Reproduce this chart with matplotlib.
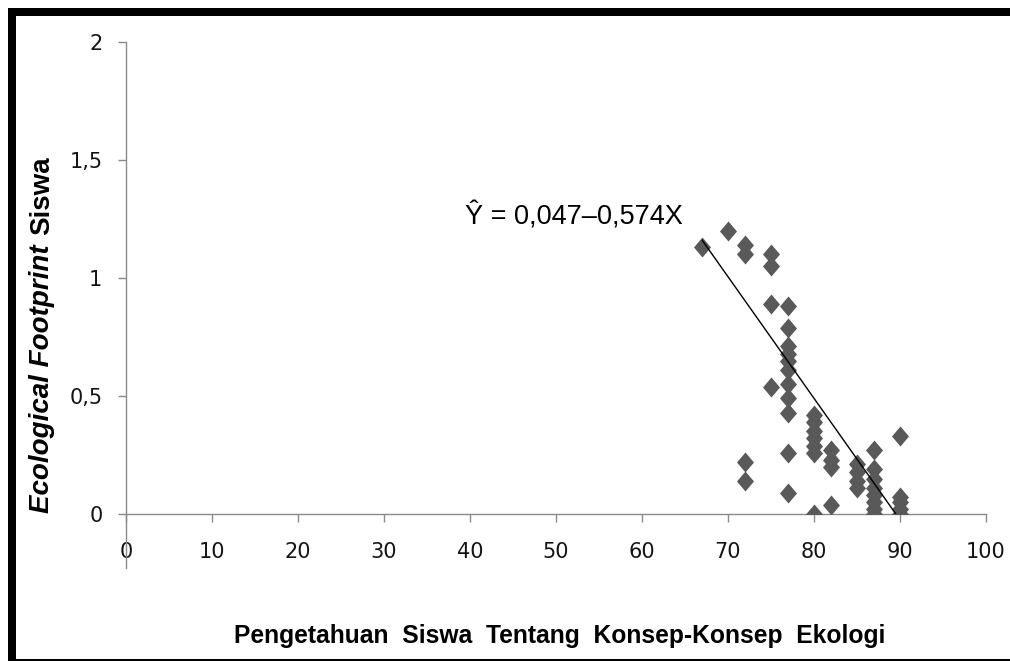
import matplotlib
matplotlib.use("Agg")
import matplotlib.pyplot as plt
from matplotlib.patches import Rectangle

# values
pengetahuan = [67, 70,
               72, 72, 72, 72,
               75, 75, 75, 75,
               77, 77, 77, 77, 77, 77, 77, 77, 77, 77, 77,
               80, 80, 80, 80, 80, 80, 80,
               82, 82, 82, 82,
               85, 85, 85, 85,
               87, 87, 87, 87, 87, 87, 87, 87,
               90, 90, 90, 90, 90]
footprint = [1.13, 1.20,
             1.14, 1.10, 0.22, 0.14,
             1.10, 1.05, 0.89, 0.54,
             0.88, 0.79, 0.71, 0.68, 0.65, 0.61, 0.55, 0.49, 0.43, 0.26, 0.09,
             0.42, 0.39, 0.35, 0.32, 0.29, 0.26, 0.00,
             0.27, 0.23, 0.20, 0.04,
             0.21, 0.18, 0.14, 0.11,
             0.27, 0.19, 0.15, 0.11, 0.08, 0.05, 0.02, 0.00,
             0.33, 0.07, 0.05, 0.02, 0.00]

# trend line as drawn in the chart
trend_x = [67, 90]
trend_y = [1.16, -0.025]

x_ticks = [0, 10, 20, 30, 40, 50, 60, 70, 80, 90, 100]
y_ticks = [0, 0.5, 1, 1.5, 2]
y_tick_labels = ['0', '0,5', '1', '1,5', '2']
persamaan = 'Ŷ = 0,047–0,574X'

W, H = 1010, 661
fig = plt.figure(figsize=(W / 100, H / 100), dpi=100)
ax = fig.add_axes([126 / W, (H - 514) / H, 860 / W, 472 / H])

diamond = [(0, 1), (0.85, 0), (0, -1), (-0.85, 0), (0, 1)]
ax.plot(pengetahuan, footprint, linestyle='none', marker=diamond,
        markersize=14.4, color='#595959', markeredgewidth=0, zorder=3)
ax.plot(trend_x, trend_y, color='black', linewidth=1.0, zorder=4)

ax.set_xlim(0, 100)
ax.set_ylim(0, 2)
ax.set_xticks(x_ticks)
ax.set_yticks(y_ticks)
ax.set_yticklabels(y_tick_labels)

for side in ['top', 'right']:
    ax.spines[side].set_visible(False)
for side in ['left', 'bottom']:
    ax.spines[side].set_color('#8a8a8a')
    ax.spines[side].set_linewidth(1.0)
# the vertical axis line runs a bit under the horizontal axis
ax.spines['left'].set_bounds(-0.23, 2)

ax.tick_params(axis='both', direction='out', length=6, width=1.0,
               color='#8a8a8a', labelcolor='#141414')
ax.tick_params(axis='x', pad=14)
ax.tick_params(axis='y', pad=11)
for lab in ax.get_xticklabels() + ax.get_yticklabels():
    lab.set_family('DejaVu Sans')
    lab.set_fontsize(15)

ax.text(39.4, 1.2246, persamaan, ha='left', va='baseline', fontsize=19.5,
        family='Liberation Sans', color='black')

# axis titles
fig.text(560 / W, (H - 643) / H,
         'Pengetahuan  Siswa  Tentang  Konsep-Konsep  Ekologi',
         ha='center', va='baseline', fontsize=17.7, fontweight='bold',
         family='Liberation Sans', color='black')
fig.text(49 / W, (H - 513) / H, 'Ecological Footprint', rotation=90,
         rotation_mode='anchor', ha='left', va='baseline', fontsize=20,
         fontweight='bold', fontstyle='italic', family='Liberation Sans')
fig.text(49 / W, (H - 235) / H, 'Siswa', rotation=90,
         rotation_mode='anchor', ha='left', va='baseline', fontsize=20,
         fontweight='bold', family='Liberation Sans')

# black frame around the picture
fig.add_artist(Rectangle((8 / W, 0), 8 / W, (H - 8) / H,
                         transform=fig.transFigure, color='black', lw=0))
fig.add_artist(Rectangle((8 / W, (H - 16) / H), 1 - 8 / W, 8 / H,
                         transform=fig.transFigure, color='black', lw=0))
fig.add_artist(Rectangle((8 / W, 0), 1 - 8 / W, 2 / H,
                         transform=fig.transFigure, color='black', lw=0))

fig.savefig('out.png', dpi=100)
